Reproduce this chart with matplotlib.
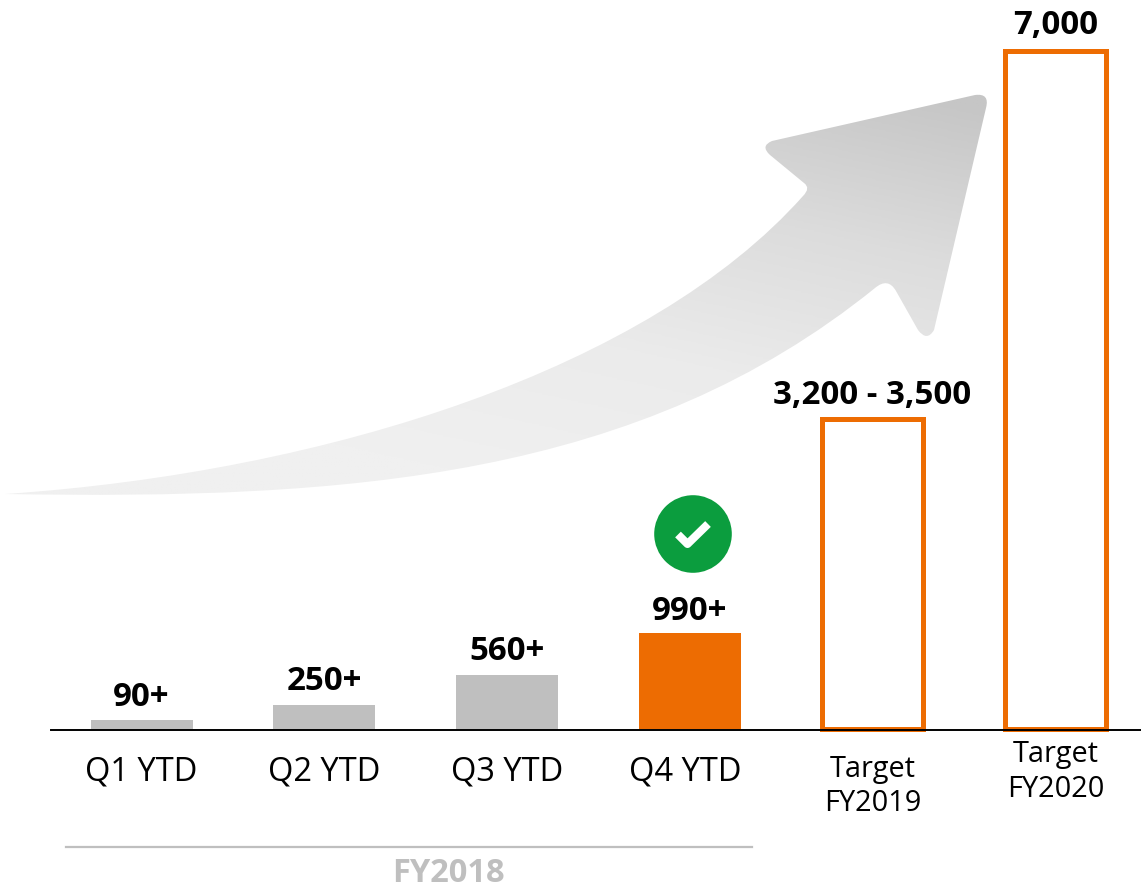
import numpy as np
import matplotlib
matplotlib.use("Agg")
import matplotlib.pyplot as plt
from matplotlib.patches import PathPatch, Circle
from matplotlib.path import Path
from matplotlib.colors import LinearSegmentedColormap

plt.rcParams['font.family'] = ['Open Sans', 'DejaVu Sans']

# bar values
categories = ["Q1 YTD", "Q2 YTD", "Q3 YTD", "Q4 YTD", "Target\nFY2019", "Target\nFY2020"]
values = [90, 250, 560, 990, 3200, 7000]
value_labels = ["90+", "250+", "560+", "990+", "3,200 - 3,500", "7,000"]
fill_colors = ["#bfbfbf", "#bfbfbf", "#bfbfbf", "#ed6c02", "white", "white"]
edge_colors = ["none", "none", "none", "none", "#ed6c02", "#ed6c02"]

W, H = 1141, 889
fig = plt.figure(figsize=(W / 100, H / 100), dpi=100)
ax = fig.add_axes([0, 0, 1, 1])
ax.set_xlim(0, W)
ax.set_ylim(H, 0)
ax.axis("off")

# arrow behind the bars, gradient from light to grey
C3, C4, L = Path.CURVE3, Path.CURVE4, Path.LINETO
arrow_parts = [
    ((5, 494), Path.MOVETO),
    ((350, 500), C4), ((640, 478), C4), ((875, 288), C4),
    ((888, 277), C3), ((896, 291), C3),
    ((918, 330), L),
    ((927, 342), C3), ((934, 330), C3),
    ((986, 108), L),
    ((990, 93), C3), ((975, 95), C3),
    ((772, 141), L),
    ((760, 146), C3), ((770, 155), C3),
    ((804, 183), L),
    ((811, 188), C3), ((803, 196), C3),
    ((650, 368), C4), ((330, 472), C4), ((5, 494), C4),
]
arrow = PathPatch(Path([p[0] for p in arrow_parts], [p[1] for p in arrow_parts]), fc="none", ec="none")
ax.add_patch(arrow)
xx, yy = np.meshgrid(np.linspace(0, 1, 300), np.linspace(0, 1, 300))
cmap = LinearSegmentedColormap.from_list("arrow", ["#f0f0f0", "#ebebeb", "#dcdcdc", "#c6c6c6"])
img = ax.imshow(0.35 * xx + 0.65 * (1 - yy), extent=(5, 990, 497, 90), cmap=cmap, vmin=0.2, vmax=0.97,
                aspect="auto", zorder=1)
img.set_clip_path(arrow)
ax.set_xlim(0, W)
ax.set_ylim(H, 0)

# bars
base = 729
px_per_unit = 0.0969
centers = [141.5, 324, 507, 690, 872.5, 1055.5]
for i in range(6):
    h = values[i] * px_per_unit
    if i < 4:
        ax.bar(centers[i], h, 102, bottom=base - h, color=fill_colors[i], zorder=2)
    else:
        ax.bar(centers[i], h, 101, bottom=base - h, facecolor="none", edgecolor=edge_colors[i], linewidth=3.6, zorder=2)

ax.plot([51, 1141], [729.5, 729.5], color="black", lw=1.4, zorder=3)

label_y = [698, 681, 651, 611, 395, 25]
for i in range(6):
    ax.text(centers[i], label_y[i], value_labels[i], ha="center", va="center",
            fontsize=23.8, fontweight="bold", color="black", zorder=4)

# category labels, Q4 sits a bit left of its bar
label_x = [141.5, 324, 507, 685]
for i in range(4):
    ax.text(label_x[i], 772, categories[i], ha="center", va="center", fontsize=23.5, color="black")
ax.text(872.5, 786.5, categories[4], ha="center", va="center", fontsize=20.8, color="black", linespacing=1.25)
ax.text(1055.5, 772, categories[5], ha="center", va="center", fontsize=20.8, color="black", linespacing=1.25)

# FY2018 bracket
ax.plot([66, 752], [846.5, 846.5], color="#bfbfbf", lw=1.6)
ax.text(448, 873, "FY2018", ha="center", va="center", fontsize=23.5, fontweight="bold", color="#bfbfbf")

# green check badge
ax.add_patch(Circle((693, 534), 38.8, fc="#0b9d3e", ec="none", zorder=4))
ax.plot([678, 687.5, 708], [534.5, 544, 524], color="white", lw=5.8, solid_capstyle="butt",
        solid_joinstyle="round", zorder=5)

fig.savefig("out.png", dpi=100)
